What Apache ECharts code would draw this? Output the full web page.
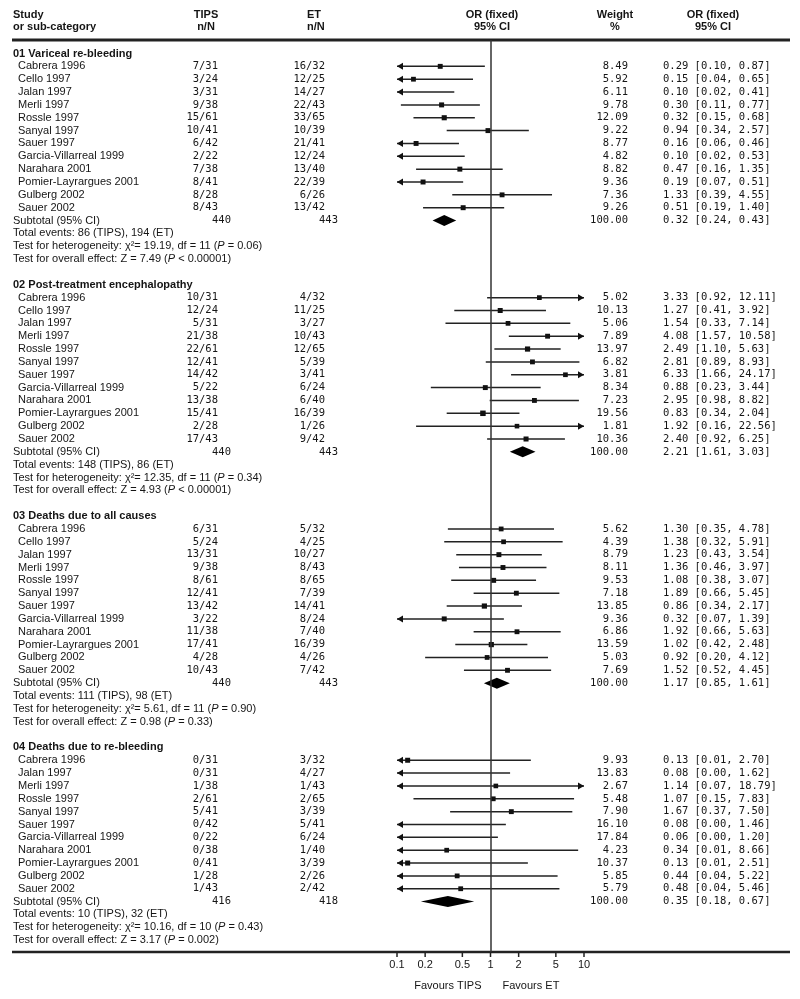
<!DOCTYPE html>
<html>
<head>
<meta charset="utf-8">
<script src="https://cdn.jsdelivr.net/npm/echarts@6/dist/echarts.min.js"></script>
<style>
  html, body { margin: 0; padding: 0; background: #fff; }
  #chart { width: 800px; height: 999px; }
</style>
</head>
<body>
<div id="chart"></div>
<script>
// study names (section 4 has no Cello 1997)
const studies = ['Cabrera 1996', 'Cello 1997', 'Jalan 1997', 'Merli 1997', 'Rossle 1997', 'Sanyal 1997',
  'Sauer 1997', 'Garcia-Villarreal 1999', 'Narahara 2001', 'Pomier-Layrargues 2001', 'Gulberg 2002', 'Sauer 2002']
const studies4 = studies.filter(s => s !== 'Cello 1997')

// 01 Variceal re-bleeding
const s1Tips = ['7/31', '3/24', '3/31', '9/38', '15/61', '10/41', '6/42', '2/22', '7/38', '8/41', '8/28', '8/43']
const s1Et = ['16/32', '12/25', '14/27', '22/43', '33/65', '10/39', '21/41', '12/24', '13/40', '22/39', '6/26', '13/42']
const s1Weight = [8.49, 5.92, 6.11, 9.78, 12.09, 9.22, 8.77, 4.82, 8.82, 9.36, 7.36, 9.26]
const s1Or = [0.29, 0.15, 0.10, 0.30, 0.32, 0.94, 0.16, 0.10, 0.47, 0.19, 1.33, 0.51]
const s1Lo = [0.10, 0.04, 0.02, 0.11, 0.15, 0.34, 0.06, 0.02, 0.16, 0.07, 0.39, 0.19]
const s1Hi = [0.87, 0.65, 0.41, 0.77, 0.68, 2.57, 0.46, 0.53, 1.35, 0.51, 4.55, 1.40]
const s1Sub = [440, 443, 0.32, 0.24, 0.43]

// 02 Post-treatment encephalopathy
const s2Tips = ['10/31', '12/24', '5/31', '21/38', '22/61', '12/41', '14/42', '5/22', '13/38', '15/41', '2/28', '17/43']
const s2Et = ['4/32', '11/25', '3/27', '10/43', '12/65', '5/39', '3/41', '6/24', '6/40', '16/39', '1/26', '9/42']
const s2Weight = [5.02, 10.13, 5.06, 7.89, 13.97, 6.82, 3.81, 8.34, 7.23, 19.56, 1.81, 10.36]
const s2Or = [3.33, 1.27, 1.54, 4.08, 2.49, 2.81, 6.33, 0.88, 2.95, 0.83, 1.92, 2.40]
const s2Lo = [0.92, 0.41, 0.33, 1.57, 1.10, 0.89, 1.66, 0.23, 0.98, 0.34, 0.16, 0.92]
const s2Hi = [12.11, 3.92, 7.14, 10.58, 5.63, 8.93, 24.17, 3.44, 8.82, 2.04, 22.56, 6.25]
const s2Sub = [440, 443, 2.21, 1.61, 3.03]

// 03 Deaths due to all causes
const s3Tips = ['6/31', '5/24', '13/31', '9/38', '8/61', '12/41', '13/42', '3/22', '11/38', '17/41', '4/28', '10/43']
const s3Et = ['5/32', '4/25', '10/27', '8/43', '8/65', '7/39', '14/41', '8/24', '7/40', '16/39', '4/26', '7/42']
const s3Weight = [5.62, 4.39, 8.79, 8.11, 9.53, 7.18, 13.85, 9.36, 6.86, 13.59, 5.03, 7.69]
const s3Or = [1.30, 1.38, 1.23, 1.36, 1.08, 1.89, 0.86, 0.32, 1.92, 1.02, 0.92, 1.52]
const s3Lo = [0.35, 0.32, 0.43, 0.46, 0.38, 0.66, 0.34, 0.07, 0.66, 0.42, 0.20, 0.52]
const s3Hi = [4.78, 5.91, 3.54, 3.97, 3.07, 5.45, 2.17, 1.39, 5.63, 2.48, 4.12, 4.45]
const s3Sub = [440, 443, 1.17, 0.85, 1.61]

// 04 Deaths due to re-bleeding
const s4Tips = ['0/31', '0/31', '1/38', '2/61', '5/41', '0/42', '0/22', '0/38', '0/41', '1/28', '1/43']
const s4Et = ['3/32', '4/27', '1/43', '2/65', '3/39', '5/41', '6/24', '1/40', '3/39', '2/26', '2/42']
const s4Weight = [9.93, 13.83, 2.67, 5.48, 7.90, 16.10, 17.84, 4.23, 10.37, 5.85, 5.79]
const s4Or = [0.13, 0.08, 1.14, 1.07, 1.67, 0.08, 0.06, 0.34, 0.13, 0.44, 0.48]
const s4Lo = [0.01, 0.00, 0.07, 0.15, 0.37, 0.00, 0.00, 0.01, 0.01, 0.04, 0.04]
const s4Hi = [2.70, 1.62, 18.79, 7.83, 7.50, 1.46, 1.20, 8.66, 2.51, 5.22, 5.46]
const s4Sub = [416, 418, 0.35, 0.18, 0.67]

const sectionTitles = ['01 Variceal re-bleeding', '02 Post-treatment encephalopathy',
  '03 Deaths due to all causes', '04 Deaths due to re-bleeding']
const totalEvents = ['86 (TIPS), 194 (ET)', '148 (TIPS), 86 (ET)', '111 (TIPS), 98 (ET)', '10 (TIPS), 32 (ET)']
const heteroChi = ['19.19', '12.35', '5.61', '10.16']
const heteroDf = [11, 11, 11, 10]
const heteroP = ['= 0.06', '= 0.34', '= 0.90', '= 0.43']
const overallZ = ['7.49', '4.93', '0.98', '3.17']
const overallP = ['< 0.00001', '< 0.00001', '= 0.33', '= 0.002']

const tickValues = [0.1, 0.2, 0.5, 1, 2, 5, 10]
const tickLabels = ['0.1', '0.2', '0.5', '1', '2', '5', '10']

const sections = [
  { names: studies, tips: s1Tips, et: s1Et, w: s1Weight, or: s1Or, lo: s1Lo, hi: s1Hi, sub: s1Sub },
  { names: studies, tips: s2Tips, et: s2Et, w: s2Weight, or: s2Or, lo: s2Lo, hi: s2Hi, sub: s2Sub },
  { names: studies, tips: s3Tips, et: s3Et, w: s3Weight, or: s3Or, lo: s3Lo, hi: s3Hi, sub: s3Sub },
  { names: studies4, tips: s4Tips, et: s4Et, w: s4Weight, or: s4Or, lo: s4Lo, hi: s4Hi, sub: s4Sub },
]

// layout
const ROW0 = 53.5      // pixel y of row 0
const PITCH = 12.85    // row height
const TOP = 40, BOTTOM = 952
const SANS = '"Liberation Sans", Arial, sans-serif'
const MONO = '"DejaVu Sans Mono", monospace'
const INK = '#151515'

// text column anchors (x px) and styles
const COL = {
  head: 13, study: 18, tips: 218, et: 325, tipsSub: 231, etSub: 338, weight: 628, or: 663
}

// build rows
const forestData = []   // [or, row, lo, hi, weight, isSubtotal]
const texts = []        // {x, row, text, kind}
let base = 0
sections.forEach((s, k) => {
  texts.push({ x: COL.head, row: base, text: sectionTitles[k], kind: 'bold' })
  s.names.forEach((name, i) => {
    const r = base + 1 + i
    texts.push({ x: COL.study, row: r, text: name, kind: 'sans' })
    texts.push({ x: COL.tips, row: r, text: s.tips[i], kind: 'monoR' })
    texts.push({ x: COL.et, row: r, text: s.et[i], kind: 'monoR' })
    texts.push({ x: COL.weight, row: r, text: s.w[i].toFixed(2), kind: 'monoR' })
    texts.push({ x: COL.or, row: r, text: s.or[i].toFixed(2) + ' [' + s.lo[i].toFixed(2) + ', ' + s.hi[i].toFixed(2) + ']', kind: 'monoL' })
    forestData.push([s.or[i], r, s.lo[i], s.hi[i], s.w[i], 0])
  })
  const rs = base + 1 + s.names.length
  texts.push({ x: COL.head, row: rs, text: 'Subtotal (95% CI)', kind: 'sans' })
  texts.push({ x: COL.tipsSub, row: rs, text: String(s.sub[0]), kind: 'monoR' })
  texts.push({ x: COL.etSub, row: rs, text: String(s.sub[1]), kind: 'monoR' })
  texts.push({ x: COL.weight, row: rs, text: '100.00', kind: 'monoR' })
  texts.push({ x: COL.or, row: rs, text: s.sub[2].toFixed(2) + ' [' + s.sub[3].toFixed(2) + ', ' + s.sub[4].toFixed(2) + ']', kind: 'monoL' })
  forestData.push([s.sub[2], rs, s.sub[3], s.sub[4], 100, 1])
  texts.push({ x: COL.head, row: rs + 1, text: 'Total events: ' + totalEvents[k], kind: 'sans' })
  texts.push({ x: COL.head, row: rs + 2, text: 'Test for heterogeneity: χ²= ' + heteroChi[k] + ', df = ' + heteroDf[k] + ' ({i|P} ' + heteroP[k] + ')', kind: 'rich' })
  texts.push({ x: COL.head, row: rs + 3, text: 'Test for overall effect: Z = ' + overallZ[k] + ' ({i|P} ' + overallP[k] + ')', kind: 'rich' })
  base = rs + 5
})

// column headers
const HEAD1 = (15 - ROW0) / PITCH, HEAD2 = (27 - ROW0) / PITCH
texts.push({ x: COL.head, row: HEAD1, text: 'Study', kind: 'bold' })
texts.push({ x: COL.head, row: HEAD2, text: 'or sub-category', kind: 'bold' })
texts.push({ x: 206, row: HEAD1, text: 'TIPS', kind: 'boldC' })
texts.push({ x: 206, row: HEAD2, text: 'n/N', kind: 'boldC' })
texts.push({ x: 307, row: HEAD1, text: 'ET', kind: 'bold' })
texts.push({ x: 307, row: HEAD2, text: 'n/N', kind: 'bold' })
texts.push({ x: 492, row: HEAD1, text: 'OR (fixed)', kind: 'boldC' })
texts.push({ x: 492, row: HEAD2, text: '95% CI', kind: 'boldC' })
texts.push({ x: 615, row: HEAD1, text: 'Weight', kind: 'boldC' })
texts.push({ x: 615, row: HEAD2, text: '%', kind: 'boldC' })
texts.push({ x: 713, row: HEAD1, text: 'OR (fixed)', kind: 'boldC' })
texts.push({ x: 713, row: HEAD2, text: '95% CI', kind: 'boldC' })

const textStyles = {
  sans: { font: '11px ' + SANS, align: 'left' },
  bold: { font: 'bold 11px ' + SANS, align: 'left' },
  boldC: { font: 'bold 11px ' + SANS, align: 'center' },
  monoR: { font: '10.5px ' + MONO, align: 'right' },
  monoL: { font: '10.5px ' + MONO, align: 'left' },
  rich: { font: '11px ' + SANS, align: 'left' },
}

const chart = echarts.init(document.getElementById('chart'))

const rowMin = (TOP - ROW0) / PITCH
const rowMax = (BOTTOM - ROW0) / PITCH

const option = {
  animation: false,
  backgroundColor: '#fff',
  grid: [
    { left: 397, width: 187, top: TOP, height: BOTTOM - TOP },
    { left: 0, right: 0, top: 0, bottom: 0 },
  ],
  xAxis: [
    { type: 'log', logBase: 10, min: 0.1, max: 10, gridIndex: 0, show: false },
    { type: 'value', min: 0, max: 800, gridIndex: 1, show: false },
  ],
  yAxis: [
    { type: 'value', inverse: true, min: rowMin, max: rowMax, gridIndex: 0, show: false },
    { type: 'value', inverse: true, min: -ROW0 / PITCH, max: (999 - ROW0) / PITCH, gridIndex: 1, show: false },
  ],
  graphic: [
    { type: 'line', shape: { x1: 12, y1: TOP, x2: 790, y2: TOP }, style: { stroke: '#222', lineWidth: 3 } },
    { type: 'line', shape: { x1: 12, y1: BOTTOM, x2: 790, y2: BOTTOM }, style: { stroke: '#222', lineWidth: 2.5 } },
  ],
  series: [
    // texts
    {
      type: 'custom',
      xAxisIndex: 1,
      yAxisIndex: 1,
      silent: true,
      data: texts.map(t => [t.x, t.row]),
      renderItem(params, api) {
        const t = texts[params.dataIndex]
        const p = api.coord([api.value(0), api.value(1)])
        const st = textStyles[t.kind]
        return {
          type: 'text',
          x: p[0],
          y: p[1],
          style: {
            text: t.text,
            font: st.font,
            fill: INK,
            align: st.align,
            verticalAlign: 'middle',
            rich: { i: { font: 'italic 11px ' + SANS, fill: INK } },
          },
        }
      },
    },
    // forest marks
    {
      type: 'custom',
      xAxisIndex: 0,
      yAxisIndex: 0,
      silent: true,
      data: forestData,
      encode: { x: 0, y: 1 },
      renderItem(params, api) {
        const or = api.value(0), row = api.value(1), lo = api.value(2), hi = api.value(3)
        const w = api.value(4), isSub = api.value(5)
        const xmin = 0.1, xmax = 10
        const y = api.coord([1, row])[1]
        const xl = api.coord([Math.max(lo, xmin), row])[0]
        const xr = api.coord([Math.min(hi, xmax), row])[0]
        const col = '#111'
        if (isSub) {
          const xc = api.coord([or, row])[0]
          return {
            type: 'polygon',
            shape: { points: [[xl, y], [xc, y - 5.5], [xr, y], [xc, y + 5.5]] },
            style: { fill: '#000' },
          }
        }
        const children = [{
          type: 'line',
          shape: { x1: xl, y1: y, x2: xr, y2: y },
          style: { stroke: '#222', lineWidth: 1.5 },
        }]
        if (lo <= xmin) {
          children.push({ type: 'polygon', shape: { points: [[xl, y], [xl + 6, y - 3.5], [xl + 6, y + 3.5]] }, style: { fill: col } })
        }
        if (hi >= xmax) {
          children.push({ type: 'polygon', shape: { points: [[xr, y], [xr - 6, y - 3.5], [xr - 6, y + 3.5]] }, style: { fill: col } })
        }
        if (or > xmin && or < xmax) {
          const xc = api.coord([or, row])[0]
          const sz = 4.5 + w * 0.05
          children.push({ type: 'rect', shape: { x: xc - sz / 2, y: y - sz / 2, width: sz, height: sz }, style: { fill: col } })
        }
        return { type: 'group', children }
      },
      markLine: {
        silent: true,
        symbol: 'none',
        label: { show: false },
        lineStyle: { color: '#333', width: 1.5, type: 'solid' },
        data: [{ xAxis: 1 }],
      },
    },
    // axis ticks and labels
    {
      type: 'custom',
      xAxisIndex: 0,
      yAxisIndex: 0,
      silent: true,
      data: tickValues.map(v => [v, rowMax]),
      renderItem(params, api) {
        const p = api.coord([api.value(0), api.value(1)])
        return {
          type: 'group',
          children: [
            { type: 'line', shape: { x1: p[0], y1: p[1], x2: p[0], y2: p[1] + 5 }, style: { stroke: '#222', lineWidth: 1.5 } },
            {
              type: 'text', x: p[0], y: p[1] + 13,
              style: { text: tickLabels[params.dataIndex], font: '11px ' + SANS, fill: INK, align: 'center', verticalAlign: 'middle' },
            },
          ],
        }
      },
    },
    // favours labels, anchored on OR = 1
    {
      type: 'custom',
      xAxisIndex: 0,
      yAxisIndex: 0,
      silent: true,
      data: [[1, rowMax]],
      renderItem(params, api) {
        const p = api.coord([api.value(0), api.value(1)])
        const font = '11px ' + SANS
        return {
          type: 'group',
          children: [
            { type: 'text', x: p[0] - 9, y: p[1] + 34, style: { text: 'Favours TIPS', font, fill: INK, align: 'right', verticalAlign: 'middle' } },
            { type: 'text', x: p[0] + 12, y: p[1] + 34, style: { text: 'Favours ET', font, fill: INK, align: 'left', verticalAlign: 'middle' } },
          ],
        }
      },
    },
  ],
}

chart.setOption(option)
window.addEventListener('resize', function () {
  chart.resize()
})
</script>
</body>
</html>
